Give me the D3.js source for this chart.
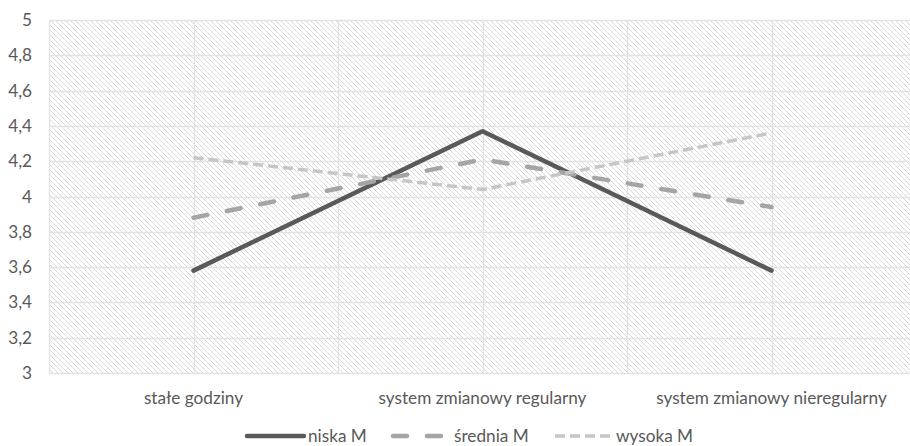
<!DOCTYPE html>
<html><head><meta charset="utf-8">
<script src="https://cdn.jsdelivr.net/npm/d3@7"></script>
<style>body{margin:0;background:#fff}svg{display:block}text{font-family:Lato,"Open Sans",sans-serif;fill:#595959}</style>
</head><body><svg id="c" width="910" height="446"></svg>
<script>
const categories = ["stałe godziny", "system zmianowy regularny", "system zmianowy nieregularny"];
const niska = [3.58, 4.37, 3.58];
const srednia = [3.88, 4.21, 3.94];
const wysoka = [4.22, 4.04, 4.36];
const seriesNames = ["niska M", "średnia M", "wysoka M"];
const yTicks = [3, 3.2, 3.4, 3.6, 3.8, 4, 4.2, 4.4, 4.6, 4.8, 5];

const svg = d3.select("#c");
const L = 49, R = 916, T = 20, B = 373;
const FS = "17.2px";
const x = d3.scaleBand().domain(categories).range([L, R]).padding(0);
const y = d3.scaleLinear().domain([3, 5]).range([B, T]);

const defs = svg.append("defs");
const pat = defs.append("pattern").attr("id","hatch").attr("patternUnits","userSpaceOnUse")
  .attr("width",5).attr("height",5);
pat.append("path").attr("d","M0,0L5,5M-1,4L1,6M4,-1L6,1").attr("stroke","#d9d9d9").attr("stroke-width",1);
defs.append("clipPath").attr("id","clip").append("rect").attr("x",L).attr("y",T).attr("width",R-L).attr("height",B-T);

svg.append("rect").attr("x",L).attr("y",T).attr("width",R-L).attr("height",B-T).attr("fill","url(#hatch)");

// gridlines
const g = svg.append("g");
g.selectAll(".hg").data(yTicks).join("line")
  .attr("x1",L).attr("x2",R).attr("y1",d=>Math.round(y(d))+0.5).attr("y2",d=>Math.round(y(d))+0.5)
  .attr("stroke","#e2e2e2").attr("stroke-width",1.3);
const vx = [];
categories.forEach(c=>{vx.push(x(c)); vx.push(x(c)+x.bandwidth()/2);});
g.selectAll(".vg").data(vx).join("line")
  .attr("x1",d=>Math.round(d)+0.5).attr("x2",d=>Math.round(d)+0.5).attr("y1",T).attr("y2",B)
  .attr("stroke","#e2e2e2").attr("stroke-width",1.3);

// y axis labels
svg.append("g").selectAll("text").data(yTicks).join("text")
  .attr("x",32).attr("y",d=>y(d)).attr("dy","0.35em").attr("text-anchor","end")
  .style("font-size",FS).text(d=>d3.format("")(d).replace(".",","));

// x axis labels
svg.append("g").selectAll("text").data(categories).join("text")
  .attr("x",d=>x(d)+x.bandwidth()/2).attr("y",398).attr("dy","0.35em").attr("text-anchor","middle")
  .style("font-size",FS).text(d=>d);

const styles = [
  {data:niska, color:"#595959", width:4.5, dash:null, cap:"round"},
  {data:srednia, color:"#a5a5a5", width:4.5, dash:"14,20", cap:"round"},
  {data:wysoka, color:"#c6c6c6", width:3.5, dash:"10,5", cap:"butt"}
];
const line = d3.line().x((d,i)=>x(categories[i])+x.bandwidth()/2).y(d=>y(d));
const lg = svg.append("g").attr("clip-path","url(#clip)");
styles.forEach(s=>{
  lg.append("path").attr("d",line(s.data)).attr("fill","none").attr("stroke",s.color)
    .attr("stroke-width",s.width).attr("stroke-dasharray",s.dash).attr("stroke-linecap",s.cap)
    .attr("stroke-linejoin","round");
});

// legend
const legX = [247, 393, 555];
const leg = svg.append("g");
styles.forEach((s,i)=>{
  leg.append("line").attr("x1",legX[i]).attr("x2",legX[i]+57).attr("y1",436).attr("y2",436)
    .attr("stroke",s.color).attr("stroke-width",s.width).attr("stroke-dasharray",s.dash).attr("stroke-linecap",s.cap);
  leg.append("text").attr("x",legX[i]+61).attr("y",436).attr("dy","0.35em")
    .style("font-size",FS).text(seriesNames[i]);
});
</script></body></html>
